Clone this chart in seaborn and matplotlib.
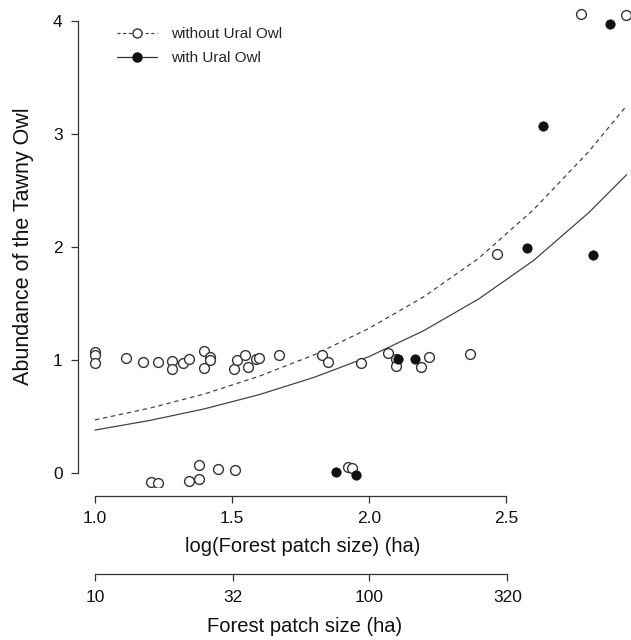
import matplotlib
matplotlib.use("Agg")
import matplotlib.pyplot as plt
from matplotlib.lines import Line2D
import numpy as np
import pandas as pd
import seaborn as sns

# Sites without Ural Owl (open circles): log10 forest patch size, tawny owl abundance
x_without = [1.0, 1.0, 1.0, 1.112, 1.176, 1.229, 1.28, 1.28, 1.322, 1.344,
             1.399, 1.42, 1.42, 1.399, 1.508, 1.52, 1.549, 1.558, 1.588, 1.597,
             1.67, 1.83, 1.849, 1.97, 2.068, 2.099, 2.099, 2.19, 2.22, 2.367,
             2.468, 2.774, 2.937, 1.204, 1.231, 1.343, 1.381, 1.381, 1.448, 1.51,
             1.922, 1.939]
y_without = [1.07, 1.04, 0.97, 1.02, 0.98, 0.985, 0.99, 0.92, 0.97, 1.01,
             1.08, 1.03, 1.0, 0.93, 0.92, 1.0, 1.04, 0.94, 1.01, 1.015,
             1.04, 1.044, 0.985, 0.97, 1.06, 1.006, 0.95, 0.94, 1.024, 1.05,
             1.94, 4.06, 4.05, -0.077, -0.085, -0.068, -0.056, 0.07, 0.035, 0.023,
             0.053, 0.044]

# Sites with Ural Owl (filled circles)
x_with = [2.105, 2.167, 1.88, 1.951, 2.578, 2.635, 2.819, 2.88]
y_with = [1.006, 1.012, 0.006, -0.02, 1.99, 3.07, 1.93, 3.97]

# Fitted curves
curve_x = [1.0, 1.2, 1.4, 1.6, 1.8, 2.0, 2.2, 2.4, 2.6, 2.8, 2.94]
curve_without = [0.47, 0.574, 0.70, 0.857, 1.046, 1.28, 1.56, 1.90, 2.33, 2.84, 3.25]
curve_with = [0.38, 0.465, 0.568, 0.694, 0.847, 1.03, 1.26, 1.54, 1.88, 2.30, 2.64]

log_ticks = [1.0, 1.5, 2.0, 2.5]
patch_labels = ["10", "32", "100", "320"]

sns.set_style("ticks")
plt.rcParams["font.family"] = ["Liberation Sans", "DejaVu Sans"]

W, H = 631, 640
fig = plt.figure(figsize=(W / 100, H / 100), dpi=100)
ax = fig.add_axes([78 / W, 1 - 487 / H, 553 / W, 482 / H])

curves = pd.DataFrame({
    "x": curve_x * 2,
    "y": curve_without + curve_with,
    "group": ["without"] * len(curve_x) + ["with"] * len(curve_x),
})
sns.lineplot(data=curves[curves.group == "without"], x="x", y="y", ax=ax,
             color="#444444", lw=0.9, linestyle=(0, (3.5, 3)), legend=False)
sns.lineplot(data=curves[curves.group == "with"], x="x", y="y", ax=ax,
             color="#444444", lw=0.9, legend=False)

pts_without = pd.DataFrame({"x": x_without, "y": y_without})
pts_with = pd.DataFrame({"x": x_with, "y": y_with})
sns.scatterplot(data=pts_without, x="x", y="y", ax=ax, s=50, marker="o",
                facecolor="white", edgecolor="#333333", linewidth=1.0, zorder=3)
sns.scatterplot(data=pts_with, x="x", y="y", ax=ax, s=46, marker="o",
                facecolor="#111111", edgecolor="#111111", linewidth=0.5, zorder=3)

ax.set_xlim(0.938, 2.956)
ax.set_ylim(-0.124, 4.142)

for s in ["top", "right"]:
    ax.spines[s].set_visible(False)
ax.spines["left"].set_bounds(0, 4)
ax.spines["bottom"].set_bounds(1.0, 2.5)
ax.spines["bottom"].set_position(("outward", 6.5))
for s in ["left", "bottom"]:
    ax.spines[s].set_color("#333333")
    ax.spines[s].set_linewidth(0.9)

ax.set_yticks([0, 1, 2, 3, 4])
ax.set_xticks(log_ticks)
ax.set_xticklabels(["1.0", "1.5", "2.0", "2.5"])
ax.tick_params(axis="both", length=5, width=0.9, color="#333333",
               labelsize=12.5, labelcolor="#111111")
ax.tick_params(axis="x", pad=5.5)
ax.tick_params(axis="y", pad=6)
ax.set_xlabel("")
ax.set_ylabel("Abundance of the Tawny Owl", fontsize=15.5, color="#111111", labelpad=14)

# Second scale: untransformed patch size
ax2 = fig.add_axes([78 / W, 1 - 574 / H, 553 / W, 0.0001])
ax2.set_facecolor("none")
ax2.set_xlim(ax.get_xlim())
ax2.set_yticks([])
for s in ["top", "left", "right"]:
    ax2.spines[s].set_visible(False)
ax2.spines["bottom"].set_bounds(1.0, np.log10(320))
ax2.spines["bottom"].set_color("#333333")
ax2.spines["bottom"].set_linewidth(0.9)
ax2.set_xticks(np.log10([10, 32, 100, 320]))
ax2.set_xticklabels(patch_labels)
ax2.tick_params(axis="x", length=5, width=0.9, color="#333333",
                labelsize=12.5, labelcolor="#111111", pad=6.5)

# axis titles, centred where the reference has them
fig.text(303 / W, 1 - 546 / H, "log(Forest patch size) (ha)", fontsize=14.5,
         color="#111111", ha="center", va="center")
fig.text(305 / W, 1 - 627 / H, "Forest patch size (ha)", fontsize=14.5,
         color="#111111", ha="center", va="center")

handles = [
    Line2D([], [], color="#444444", lw=0.9, linestyle=(0, (2.5, 2)), marker="o",
           markersize=6.5, markerfacecolor="white", markeredgecolor="#333333"),
    Line2D([], [], color="#333333", lw=0.9, linestyle="-", marker="o",
           markersize=6.5, markerfacecolor="#111111", markeredgecolor="#111111"),
]
ax.legend(handles, ["without Ural Owl", "with Ural Owl"], loc="upper left",
          bbox_to_anchor=(0.0705, 0.954), frameon=False, fontsize=11,
          handlelength=2.65, handletextpad=0.9, labelspacing=0.65,
          borderpad=0, borderaxespad=0)

fig.savefig("out.png", dpi=100)
